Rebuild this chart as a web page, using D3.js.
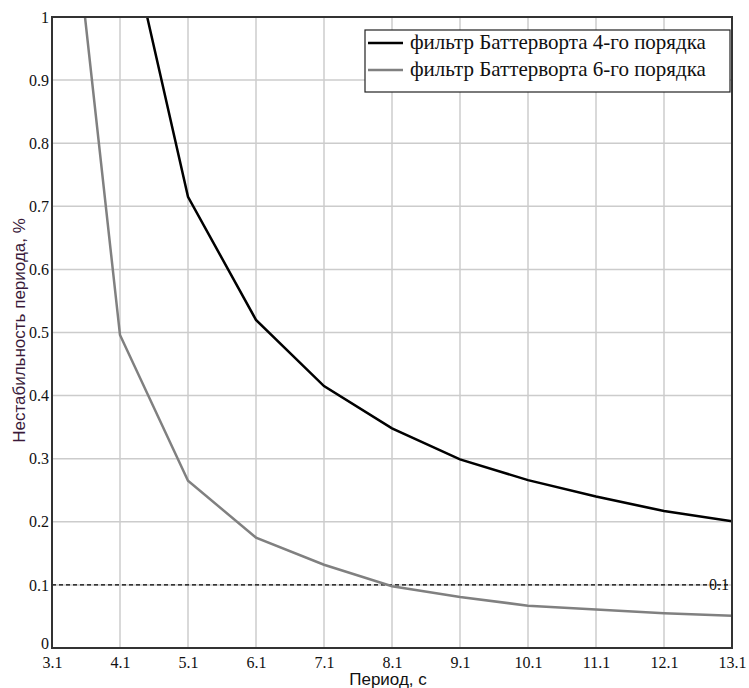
<!DOCTYPE html>
<html><head><meta charset="utf-8">
<script src="https://cdn.jsdelivr.net/npm/d3@7"></script>
<style>body{margin:0;background:#fff}</style>
</head><body>
<svg id="c" width="749" height="688"></svg>
<script>
const xTicks = [3.1,4.1,5.1,6.1,7.1,8.1,9.1,10.1,11.1,12.1,13.1];
const yTicks = [0,0.1,0.2,0.3,0.4,0.5,0.6,0.7,0.8,0.9,1];
const periods4 = [4.1,5.1,6.1,7.1,8.1,9.1,10.1,11.1,12.1,13.1];
const values4 = [1.19,0.715,0.52,0.415,0.348,0.299,0.266,0.240,0.217,0.201];
const periods6 = [3.1,4.1,5.1,6.1,7.1,8.1,9.1,10.1,11.1,12.1,13.1];
const values6 = [1.475,0.496,0.265,0.175,0.132,0.098,0.081,0.067,0.061,0.055,0.051];
const seriesNames = ["фильтр Баттерворта 4-го порядка","фильтр Баттерворта 6-го порядка"];
const seriesColors = ["#000000","#808080"];
const thresholdValue = 0.1;
const thresholdLabel = "0.1";
const xTitle = "Период, с";
const yTitle = "Нестабильность периода, %";

const svg = d3.select("#c");
const L=52, R=732, T=17, B=648;
const x = d3.scaleLinear().domain([3.1,13.1]).range([L,R]);
const y = d3.scaleLinear().domain([0,1]).range([B,T]);
const serif = "'Liberation Serif','Times New Roman',serif";
const sans = "'Liberation Sans',Arial,sans-serif";

svg.append("defs").append("clipPath").attr("id","clip")
  .append("rect").attr("x",L).attr("y",T).attr("width",R-L).attr("height",B-T);

// grid
const g = svg.append("g");
g.selectAll("line.vx").data(xTicks).join("line")
  .attr("x1",d=>x(d)).attr("x2",d=>x(d)).attr("y1",T).attr("y2",B)
  .attr("stroke","#cccccc").attr("stroke-width",1.5);
g.selectAll("line.hy").data(yTicks).join("line").attr("class","hy")
  .attr("x1",L).attr("x2",R).attr("y1",d=>y(d)).attr("y2",d=>y(d))
  .attr("stroke","#cccccc").attr("stroke-width",1.5);

// threshold
svg.append("line").attr("x1",L).attr("x2",R).attr("y1",y(thresholdValue)).attr("y2",y(thresholdValue))
  .attr("stroke","#000").attr("stroke-width",1.2).attr("stroke-dasharray","4,3");
svg.append("text").attr("x",R-3).attr("y",y(thresholdValue)+5).attr("text-anchor","end")
  .attr("font-family",serif).attr("font-size",16).attr("fill","#111").text(thresholdLabel);

// lines
const line = d3.line().x(d=>x(d[0])).y(d=>y(d[1]));
const lg = svg.append("g").attr("clip-path","url(#clip)");
lg.append("path").datum(periods6.map((p,i)=>[p,values6[i]])).attr("d",line)
  .attr("fill","none").attr("stroke",seriesColors[1]).attr("stroke-width",2.5);
lg.append("path").datum(periods4.map((p,i)=>[p,values4[i]])).attr("d",line)
  .attr("fill","none").attr("stroke",seriesColors[0]).attr("stroke-width",2.5);

// frame
svg.append("rect").attr("x",L).attr("y",T).attr("width",R-L).attr("height",B-T)
  .attr("fill","none").attr("stroke","#333").attr("stroke-width",2);

// axes
const xa = svg.append("g").attr("transform",`translate(0,${B})`)
  .call(d3.axisBottom(x).tickValues(xTicks).tickSize(0).tickPadding(9).tickFormat(d3.format(".1f")));
const ya = svg.append("g").attr("transform",`translate(${L},0)`)
  .call(d3.axisLeft(y).tickValues(yTicks).tickSize(0).tickPadding(3).tickFormat(d=>d===0||d===1?String(d):d3.format(".1f")(d)));
[xa,ya].forEach(a=>{a.select(".domain").remove();
  a.selectAll("text").attr("font-family",serif).attr("font-size",16).attr("fill","#111");});
ya.selectAll(".tick").filter(d=>d===0).select("text").attr("dy","0.05em");

svg.append("text").attr("x",(L+R)/2-4).attr("y",685).attr("text-anchor","middle")
  .attr("font-family",sans).attr("font-size",17).attr("fill","#111").text(xTitle);
svg.append("text").attr("transform",`translate(25,${(T+B)/2-2}) rotate(-90)`).attr("text-anchor","middle")
  .attr("font-family",sans).attr("font-size",17).attr("fill","#3a1a3a").text(yTitle);

// legend
const lgd = svg.append("g");
lgd.append("rect").attr("x",365).attr("y",30).attr("width",365).attr("height",62)
  .attr("fill","#fff").attr("stroke","#222").attr("stroke-width",1.2);
seriesNames.forEach((n,i)=>{
  const yy = 43 + i*27;
  lgd.append("line").attr("x1",368).attr("x2",403).attr("y1",yy).attr("y2",yy)
    .attr("stroke",seriesColors[i]).attr("stroke-width",2.5);
  lgd.append("text").attr("x",410).attr("y",yy+6).attr("font-family",serif).attr("font-size",21)
    .attr("fill","#111").text(n);
});
</script>
</body></html>
